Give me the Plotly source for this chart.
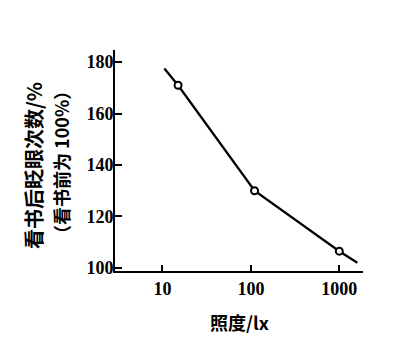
import plotly.graph_objects as go

# curve (drawn line, extends a little past the measured points)
curve_lux = [10.5, 15, 110, 1000, 1600]
curve_blink = [177.5, 171, 130, 106.5, 102]
# measured points (open circles)
point_lux = [15, 110, 1000]
point_blink = [171, 130, 106.5]

x_ticks = [10, 100, 1000]
x_tick_labels = ["10", "100", "1000"]
y_ticks = [100, 120, 140, 160, 180]
y_tick_labels = ["100", "120", "140", "160", "180"]

x_title = "照度/lx"
y_title_1 = "看书后眨眼次数/%"
y_title_2 = "（看书前为 100%）"

W, H = 408, 355
L, R, T, B = 115, 45, 50, 84

fig = go.Figure()
fig.add_trace(go.Scatter(x=curve_lux, y=curve_blink, mode="lines",
                         line=dict(color="black", width=2.3), hoverinfo="skip"))
fig.add_trace(go.Scatter(x=point_lux, y=point_blink, mode="markers",
                         marker=dict(symbol="circle", size=7, color="white",
                                     line=dict(color="black", width=2))))

tick_font = dict(family="Liberation Serif", size=18, color="black", weight="bold")
fig.update_xaxes(type="log", range=[0.463, 3.268], tickvals=x_ticks, ticktext=x_tick_labels,
                 ticks="inside", ticklen=6, tickwidth=1.5, tickcolor="black",
                 showline=True, linecolor="black", linewidth=2, showgrid=False, zeroline=False,
                 tickfont=tick_font)
fig.update_yaxes(range=[98.8, 184.7], tickvals=y_ticks, ticktext=y_tick_labels,
                 ticks="inside", ticklen=7, tickwidth=1.5, tickcolor="black",
                 showline=True, linecolor="black", linewidth=2, showgrid=False, zeroline=False,
                 tickfont=tick_font, ticklabelstandoff=-4)

cjk = "Noto Sans CJK SC"
fig.add_annotation(text=f"<b>{x_title}</b>", xref="paper", yref="paper",
                   x=0.5, y=-(322 - (H - B)) / (H - T - B), xanchor="center", yanchor="middle",
                   showarrow=False, font=dict(family=cjk, size=18, color="black"))
fig.add_annotation(text=f"<b>{y_title_1}</b>", xref="paper", yref="paper",
                   x=(33 - L) / (W - L - R), y=(H - B - 166) / (H - T - B), textangle=-90,
                   xanchor="center", yanchor="middle",
                   showarrow=False, font=dict(family=cjk, size=20, color="black"))
fig.add_annotation(text=f"<b>{y_title_2}</b>", xref="paper", yref="paper",
                   x=(61 - L) / (W - L - R), y=(H - B - 163) / (H - T - B), textangle=-90,
                   xanchor="center", yanchor="middle",
                   showarrow=False, font=dict(family=cjk, size=18, color="black"))

fig.update_layout(width=W, height=H, margin=dict(l=L, r=R, t=T, b=B),
                  plot_bgcolor="white", paper_bgcolor="white", showlegend=False)
fig.write_html("out.html")
